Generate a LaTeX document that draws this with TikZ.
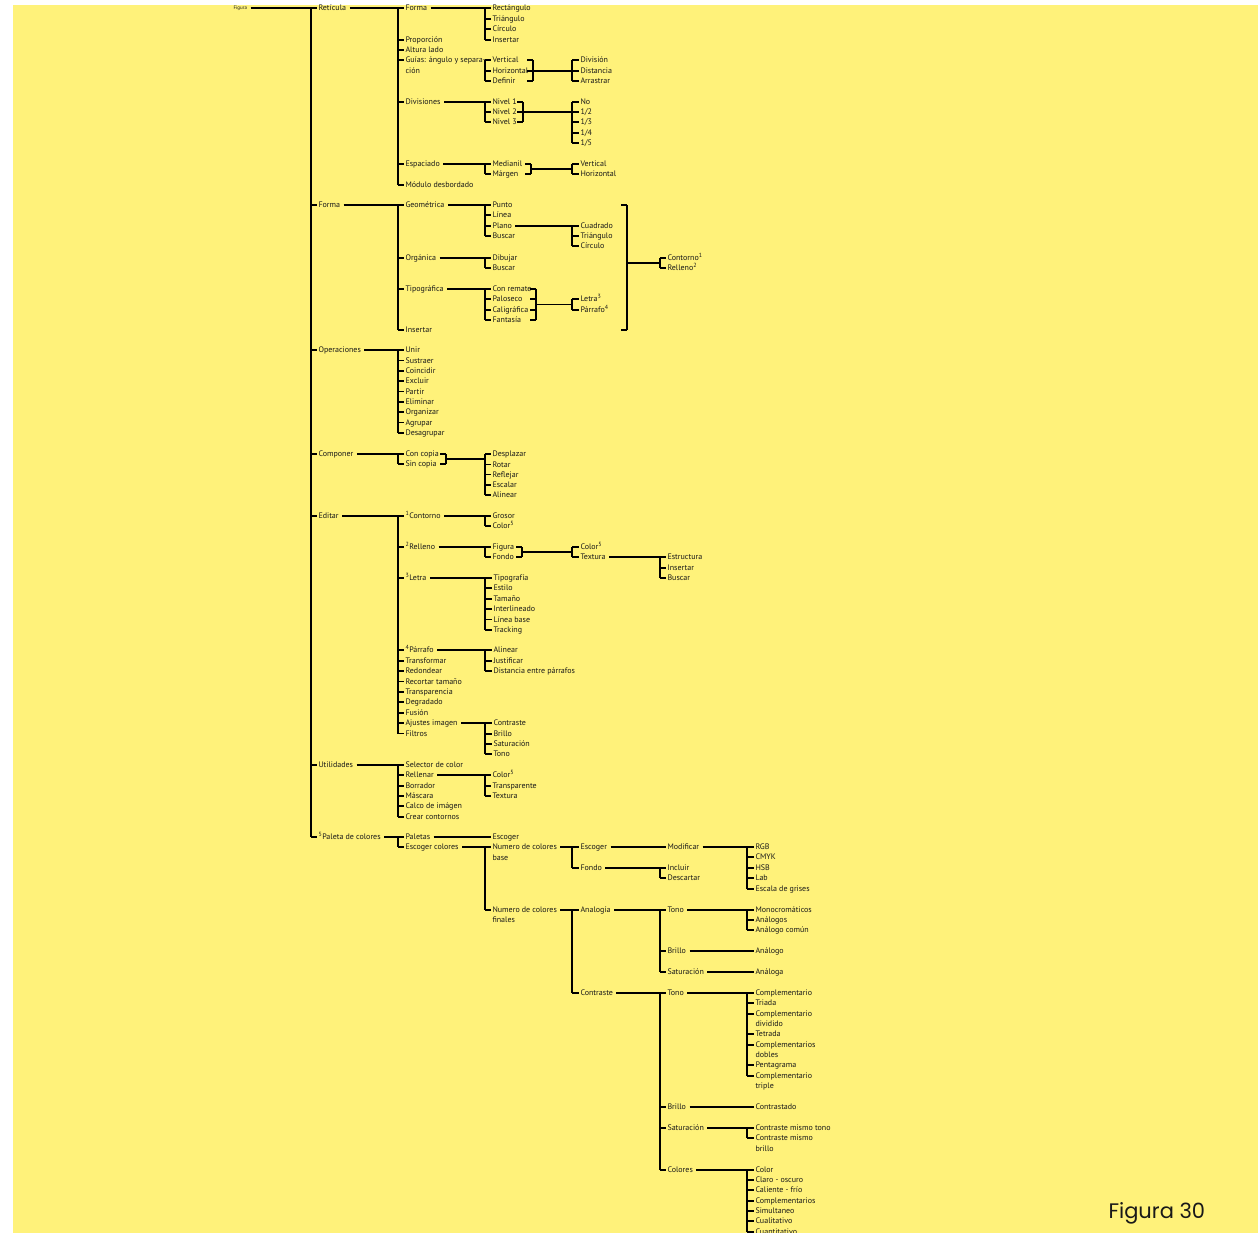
\documentclass[tikz,border=0pt]{standalone}
\usepackage{fontspec}
\setmainfont{PT Sans}
\newfontfamily\capfont{Poppins}
\usetikzlibrary{calc}
\definecolor{paper}{RGB}{255,242,122}
\definecolor{ink}{RGB}{25,25,25}
\tikzset{
  lbl/.style={anchor=west, inner sep=0pt, text height=5.6pt, text depth=0pt,
              font=\fontsize{8}{9.6}\selectfont, text=ink},
  tinylbl/.style={lbl, text height=3.6pt, font=\fontsize{5}{6}\selectfont},
}
% a labelled item: name, x, y, text
\newcommand\lab[4]{\node[lbl] (#1) at (#2,#3) {#4};}
% a vertical bus from first to last item, with a tick to every item
\newcommand\bus[4]{%
  \draw (#1 |- #2.west) -- (#1 |- #3.west);
  \foreach \c in {#4}{\draw (#1 |- \c.west) -- ([xshift=-1pt]\c.west);}}
% parent line into a bus, then the bus down to the last child
\newcommand\fork[4]{%
  \draw ([xshift=3pt]#1.east) -- (#2 |- #1.west);
  \bus{#2}{#1}{#3}{#4}}
% closing bracket after a group of items
\newcommand\brk[4]{%
  \draw (#1 |- #2.west) -- (#1 |- #3.west);
  \foreach \c in {#4}{\draw ($(#1 |- \c.west)+(-6,0)$) -- (#1 |- \c.west);}}
% straight line between two items
\newcommand\link[2]{\draw ([xshift=3pt]#1.east) -- ([xshift=-1pt]#2.west);}

\begin{document}
\begin{tikzpicture}[x=1pt,y=-1pt,line width=1.05pt]
\useasboundingbox (0,0) rectangle (1258,1233);
\clip (0,0) rectangle (1258,1233);
\fill[white] (0,0) rectangle (1258,1233);
\fill[paper] (13,5) rectangle (1258,1233);

% bus columns and bracket columns
\coordinate (B0) at (311,0);
\coordinate (B1) at (398,0);
\coordinate (B2) at (485,0);
\coordinate (B3) at (572,0);
\coordinate (B4) at (660,0);
\coordinate (B5) at (747,0);
\coordinate (K1) at (533,0);
\coordinate (K2) at (523,0);
\coordinate (K3) at (531,0);
\coordinate (K4) at (536,0);
\coordinate (K5) at (446,0);
\coordinate (K6) at (522,0);
\coordinate (K7) at (627,0);

% ---------- root and first level ----------
\node[tinylbl] (figura) at (233,8) {Figura};
\lab{ret}{318}{8}{Retícula}
\lab{formaA}{318}{205}{Forma}
\lab{oper}{318}{350}{Operaciones}
\lab{comp}{318}{454}{Componer}
\lab{edit}{318}{516}{Editar}
\lab{util}{318}{765}{Utilidades}
\lab{paleta}{318}{837}{\textsuperscript{5}Paleta de colores}

% ---------- Retícula ----------
\lab{rforma}{405}{8}{Forma}
\lab{prop}{405}{40}{Proporción}
\lab{alt}{405}{50}{Altura lado}
\lab{guias}{405}{60}{Guías: ángulo y separa-}
\lab{guiasb}{405}{71}{ción}
\lab{divs}{405}{102}{Divisiones}
\lab{esp}{405}{164}{Espaciado}
\lab{modd}{405}{185}{Módulo desbordado}

\lab{rrect}{492}{8}{Rectángulo}
\lab{rtri}{492}{19}{Triángulo}
\lab{rcirc}{492}{29}{Círculo}
\lab{rins}{492}{40}{Insertar}
\lab{gver}{492}{60}{Vertical}
\lab{ghor}{492}{71}{Horizontal}
\lab{gdef}{492}{81}{Definir}
\lab{nivA}{492}{102}{Nivel 1}
\lab{nivB}{492}{112}{Nivel 2}
\lab{nivC}{492}{122}{Nivel 3}
\lab{med}{492}{164}{Medianil}
\lab{marg}{492}{174}{Márgen}

\lab{gdivi}{580}{60}{División}
\lab{gdist}{580}{71}{Distancia}
\lab{garr}{580}{81}{Arrastrar}
\lab{dno}{580}{102}{No}
\lab{dha}{580}{112}{1/2}
\lab{dtr}{580}{122}{1/3}
\lab{dcu}{580}{133}{1/4}
\lab{dqu}{580}{143}{1/5}
\lab{ever}{580}{164}{Vertical}
\lab{ehor}{580}{174}{Horizontal}

% ---------- Forma ----------
\lab{geo}{405}{205}{Geométrica}
\lab{org}{405}{258}{Orgánica}
\lab{tipo}{405}{289}{Tipográfica}
\lab{fins}{405}{330}{Insertar}
\lab{punto}{492}{205}{Punto}
\lab{linea}{492}{215}{Línea}
\lab{plano}{492}{226}{Plano}
\lab{gbus}{492}{236}{Buscar}
\lab{dib}{492}{258}{Dibujar}
\lab{obus}{492}{268}{Buscar}
\lab{conr}{492}{289}{Con remate}
\lab{palo}{492}{299}{Paloseco}
\lab{cali}{492}{310}{Caligráfica}
\lab{fant}{492}{320}{Fantasía}
\lab{cuad}{580}{226}{Cuadrado}
\lab{ptri}{580}{236}{Triángulo}
\lab{pcir}{580}{246}{Círculo}
\lab{tlet}{580}{299}{Letra\textsuperscript{3}}
\lab{tpar}{580}{310}{Párrafo\textsuperscript{4}}
\lab{fcon}{667}{258}{Contorno\textsuperscript{1}}
\lab{frel}{667}{268}{Relleno\textsuperscript{2}}

% ---------- Operaciones ----------
\lab{oA}{405}{350}{Unir}
\lab{oB}{405}{360.5}{Sustraer}
\lab{oC}{405}{371}{Coincidir}
\lab{oD}{405}{381}{Excluir}
\lab{oE}{405}{391.5}{Partir}
\lab{oF}{405}{402}{Eliminar}
\lab{oG}{405}{412}{Organizar}
\lab{oH}{405}{422.5}{Agrupar}
\lab{oI}{405}{433}{Desagrupar}

% ---------- Componer ----------
\lab{ccon}{405}{454}{Con copia}
\lab{csin}{405}{464}{Sin copia}
\lab{cdes}{492}{454}{Desplazar}
\lab{crot}{492}{464.3}{Rotar}
\lab{cref}{492}{474.6}{Reflejar}
\lab{cesc}{492}{485}{Escalar}
\lab{calin}{492}{495}{Alinear}

% ---------- Editar ----------
\lab{econ}{405}{516}{\textsuperscript{1}Contorno}
\lab{erel}{405}{547}{\textsuperscript{2}Relleno}
\lab{elet}{405}{578}{\textsuperscript{3}Letra}
\lab{epar}{405}{650}{\textsuperscript{4}Párrafo}
\lab{etra}{405}{661}{Transformar}
\lab{ered}{405}{671}{Redondear}
\lab{erec}{405}{681.5}{Recortar tamaño}
\lab{etrp}{405}{692}{Transparencia}
\lab{edeg}{405}{702}{Degradado}
\lab{efus}{405}{713}{Fusión}
\lab{eaju}{405}{723}{Ajustes imagen}
\lab{efil}{405}{733.5}{Filtros}
\lab{egro}{492}{516}{Grosor}
\lab{ecol}{492}{526}{Color\textsuperscript{5}}
\lab{efig}{492}{547}{Figura}
\lab{efon}{492}{557}{Fondo}
\lab{rcol}{580}{547}{Color\textsuperscript{5}}
\lab{rtex}{580}{557}{Textura}
\lab{test}{667}{557}{Estructura}
\lab{tins}{667}{568}{Insertar}
\lab{tbus}{667}{578}{Buscar}
\lab{ltip}{493}{578}{Tipografía}
\lab{lest}{493}{588}{Estilo}
\lab{ltam}{493}{599}{Tamaño}
\lab{lint}{493}{609}{Interlineado}
\lab{llin}{493}{619.5}{Línea base}
\lab{ltrk}{493}{630}{Tracking}
\lab{pali}{493}{650}{Alinear}
\lab{pjus}{493}{661}{Justificar}
\lab{pdis}{493}{671}{Distancia entre párrafos}
\lab{ajA}{493}{723}{Contraste}
\lab{ajB}{493}{734}{Brillo}
\lab{ajC}{493}{744}{Saturación}
\lab{ajD}{493}{754}{Tono}

% ---------- Utilidades ----------
\lab{usel}{405}{765}{Selector de color}
\lab{urel}{405}{775}{Rellenar}
\lab{ubor}{405}{786}{Borrador}
\lab{umas}{405}{796}{Máscara}
\lab{ucal}{405}{806}{Calco de imágen}
\lab{ucre}{405}{817}{Crear contornos}
\lab{ucol}{492}{775}{Color\textsuperscript{5}}
\lab{utra}{492}{786}{Transparente}
\lab{utex}{492}{796}{Textura}

% ---------- Paleta de colores ----------
\lab{ppal}{405}{837}{Paletas}
\lab{pesc}{405}{847}{Escoger colores}
\lab{pescg}{492}{837}{Escoger}
\lab{nbase}{492}{847}{Numero de colores}
\lab{nbaseb}{492}{857.5}{base}
\lab{nfin}{492}{910}{Numero de colores}
\lab{nfinb}{492}{920}{finales}
\lab{besc}{580}{847}{Escoger}
\lab{bfon}{580}{868}{Fondo}
\lab{bmod}{667}{847}{Modificar}
\lab{binc}{667}{868}{Incluir}
\lab{bdes}{667}{878}{Descartar}
\lab{mrgb}{755}{847}{RGB}
\lab{mcmy}{755}{857}{CMYK}
\lab{mhsb}{755}{868}{HSB}
\lab{mlab}{755}{878}{Lab}
\lab{mesc}{755}{889}{Escala de grises}
\lab{fana}{580}{910}{Analogía}
\lab{fctr}{580}{993}{Contraste}
\lab{atono}{667}{910}{Tono}
\lab{abri}{667}{951}{Brillo}
\lab{asat}{667}{972}{Saturación}
\lab{amon}{755}{910}{Monocromáticos}
\lab{aana}{755}{920}{Análogos}
\lab{acom}{755}{930}{Análogo común}
\lab{abria}{755}{951}{Análogo}
\lab{asata}{755}{972}{Análoga}
\lab{ctono}{667}{993}{Tono}
\lab{cbri}{667}{1107}{Brillo}
\lab{csat}{667}{1128}{Saturación}
\lab{ccol}{667}{1170}{Colores}
\lab{tA}{755}{993}{Complementario}
\lab{tB}{755}{1003}{Triada}
\lab{tC}{755}{1014}{Complementario}
\lab{tCb}{755}{1024}{dividido}
\lab{tD}{755}{1034}{Tetrada}
\lab{tE}{755}{1045}{Complementarios}
\lab{tEb}{755}{1055}{dobles}
\lab{tF}{755}{1065}{Pentagrama}
\lab{tG}{755}{1076}{Complementario}
\lab{tGb}{755}{1086}{triple}
\lab{cbria}{755}{1107}{Contrastado}
\lab{csA}{755}{1128}{Contraste mismo tono}
\lab{csB}{755}{1138}{Contraste mismo}
\lab{csBb}{755}{1148.5}{brillo}
\lab{kA}{755}{1170}{Color}
\lab{kB}{755}{1180}{Claro - oscuro}
\lab{kC}{755}{1190}{Caliente - frío}
\lab{kD}{755}{1201}{Complementarios}
\lab{kE}{755}{1211}{Simultaneo}
\lab{kF}{755}{1221}{Cualitativo}
\lab{kG}{755}{1232}{Cuantitativo}

\node[anchor=base west, inner sep=0pt, text=ink, font=\capfont\fontsize{21}{24}\selectfont]
  (title) at (1108,1218) {Figura 30};

% ---------- connectors ----------
\fork{figura}{B0}{paleta}{ret,formaA,oper,comp,edit,util,paleta}

\fork{ret}{B1}{modd}{rforma,prop,alt,guias,divs,esp,modd}
\fork{rforma}{B2}{rins}{rrect,rtri,rcirc,rins}
\fork{guias}{B2}{gdef}{gver,ghor,gdef}
\brk{K1}{gver}{gdef}{gver,gdef}
\draw ($(K1 |- ghor.west)+(-6,0)$) -- (B3 |- ghor.west);
\bus{B3}{gdivi}{garr}{gdivi,gdist,garr}
\fork{divs}{B2}{nivC}{nivA,nivB,nivC}
\brk{K2}{nivA}{nivC}{nivA,nivC}
\draw ($(K2 |- nivB.west)+(-6,0)$) -- (B3 |- nivB.west);
\bus{B3}{dno}{dqu}{dno,dha,dtr,dcu,dqu}
\fork{esp}{B2}{marg}{med,marg}
\brk{K3}{med}{marg}{med,marg}
\coordinate (em) at ($(med.west)!.5!(marg.west)$);
\draw (K3 |- em) -- (B3 |- em);
\bus{B3}{ever}{ehor}{ever,ehor}

\fork{formaA}{B1}{fins}{geo,org,tipo,fins}
\fork{geo}{B2}{gbus}{punto,linea,plano,gbus}
\fork{plano}{B3}{pcir}{cuad,ptri,pcir}
\fork{org}{B2}{obus}{dib,obus}
\fork{tipo}{B2}{fant}{conr,palo,cali,fant}
\brk{K4}{conr}{fant}{conr,palo,cali,fant}
\coordinate (tm) at ($(tlet.west)!.5!(tpar.west)$);
\draw (K4 |- tm) -- (B3 |- tm);
\bus{B3}{tlet}{tpar}{tlet,tpar}
\brk{K7}{geo}{fins}{geo,fins}
\coordinate (fm) at ($(fcon.west)!.5!(frel.west)$);
\draw (K7 |- fm) -- (B4 |- fm);
\bus{B4}{fcon}{frel}{fcon,frel}

\fork{oper}{B1}{oI}{oA,oB,oC,oD,oE,oF,oG,oH,oI}

\fork{comp}{B1}{csin}{ccon,csin}
\brk{K5}{ccon}{csin}{ccon,csin}
\coordinate (cm) at ($(ccon.west)!.5!(csin.west)$);
\draw (K5 |- cm) -- (B2 |- cm);
\bus{B2}{cdes}{calin}{cdes,crot,cref,cesc,calin}

\fork{edit}{B1}{efil}{econ,erel,elet,epar,etra,ered,erec,etrp,edeg,efus,eaju,efil}
\fork{econ}{B2}{ecol}{egro,ecol}
\fork{erel}{B2}{efon}{efig,efon}
\brk{K6}{efig}{efon}{efig,efon}
\coordinate (rm) at ($(efig.west)!.5!(efon.west)$);
\draw (K6 |- rm) -- (B3 |- rm);
\bus{B3}{rcol}{rtex}{rcol,rtex}
\fork{rtex}{B4}{tbus}{test,tins,tbus}
\fork{elet}{B2}{ltrk}{ltip,lest,ltam,lint,llin,ltrk}
\fork{epar}{B2}{pdis}{pali,pjus,pdis}
\fork{eaju}{B2}{ajD}{ajA,ajB,ajC,ajD}

\fork{util}{B1}{ucre}{usel,urel,ubor,umas,ucal,ucre}
\fork{urel}{B2}{utex}{ucol,utra,utex}

\fork{paleta}{B1}{pesc}{ppal,pesc}
\link{ppal}{pescg}
\fork{pesc}{B2}{nfin}{nbase,nfin}
\fork{nbase}{B3}{bfon}{besc,bfon}
\link{besc}{bmod}
\fork{bmod}{B5}{mesc}{mrgb,mcmy,mhsb,mlab,mesc}
\fork{bfon}{B4}{bdes}{binc,bdes}
\fork{nfin}{B3}{fctr}{fana,fctr}
\fork{fana}{B4}{asat}{atono,abri,asat}
\fork{atono}{B5}{acom}{amon,aana,acom}
\link{abri}{abria}
\link{asat}{asata}
\fork{fctr}{B4}{ccol}{ctono,cbri,csat,ccol}
\fork{ctono}{B5}{tG}{tA,tB,tC,tD,tE,tF,tG}
\link{cbri}{cbria}
\fork{csat}{B5}{csB}{csA,csB}
\fork{ccol}{B5}{kG}{kA,kB,kC,kD,kE,kF,kG}
\end{tikzpicture}
\end{document}
